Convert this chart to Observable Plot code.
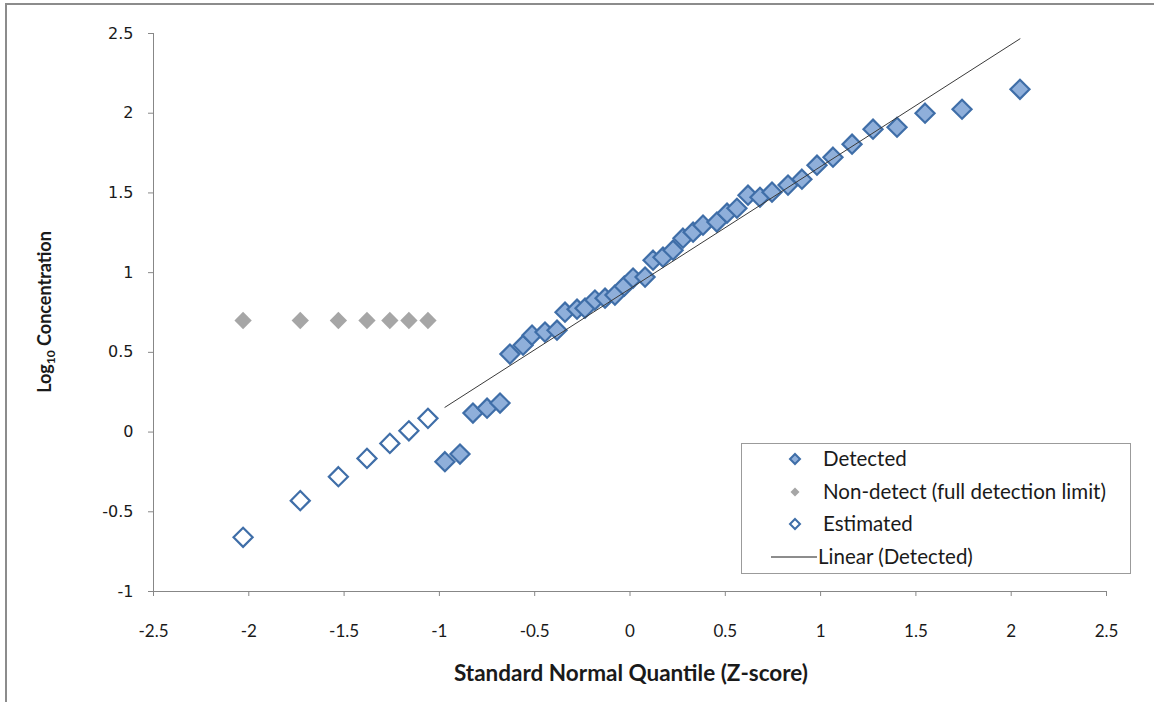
<!DOCTYPE html>
<html>
<head>
<meta charset="utf-8">
<script src="https://cdn.jsdelivr.net/npm/d3@7"></script>
<script src="https://cdn.jsdelivr.net/npm/@observablehq/plot@0.6"></script>
<style>
  html, body { margin: 0; padding: 0; background: #fff; }
  #wrap { position: relative; width: 1154px; height: 702px; overflow: hidden; background: #fff; }
  #border { position: absolute; left: 5px; top: 3px; right: 0; bottom: 0;
            border-top: 2px solid #8c8c8c; border-left: 2px solid #8c8c8c; pointer-events: none; }
  #chart { position: absolute; left: 0; top: 0; }
</style>
</head>
<body>
<div id="wrap"><div id="chart"></div><div id="border"></div></div>
<script>
// ---- Data ----
const detectedZ = [-0.971, -0.892, -0.824, -0.750, -0.682, -0.630, -0.561, -0.514, -0.446, -0.383,
                   -0.341, -0.278, -0.236, -0.184, -0.131, -0.079, -0.030, 0.016, 0.079, 0.121,
                   0.173, 0.226, 0.278, 0.331, 0.383, 0.456, 0.509, 0.561, 0.619, 0.682,
                   0.745, 0.829, 0.902, 0.981, 1.065, 1.165, 1.275, 1.401, 1.548, 1.742, 2.046];
const detectedLog = [-0.186, -0.138, 0.119, 0.150, 0.182, 0.489, 0.545, 0.608, 0.627, 0.639,
                     0.752, 0.771, 0.777, 0.828, 0.840, 0.859, 0.915, 0.966, 0.972, 1.078,
                     1.097, 1.141, 1.216, 1.254, 1.298, 1.317, 1.373, 1.404, 1.486, 1.473,
                     1.505, 1.549, 1.586, 1.674, 1.724, 1.806, 1.900, 1.912, 2.000, 2.025, 2.150];
const nonDetectZ = [-2.03, -1.73, -1.53, -1.38, -1.26, -1.16, -1.06];
const nonDetectLog = [0.70, 0.70, 0.70, 0.70, 0.70, 0.70, 0.70];
const estimatedZ = [-2.03, -1.73, -1.53, -1.38, -1.26, -1.16, -1.06];
const estimatedLog = [-0.66, -0.43, -0.28, -0.165, -0.071, 0.008, 0.086];
const xTicks = [-2.5, -2, -1.5, -1, -0.5, 0, 0.5, 1, 1.5, 2, 2.5];
const yTicks = [-1, -0.5, 0, 0.5, 1, 1.5, 2, 2.5];
const seriesNames = ["Detected", "Non-detect (full detection limit)", "Estimated", "Linear (Detected)"];
const xTitle = "Standard Normal Quantile (Z-score)";

// ---- Build tables ----
const detected = detectedZ.map((z, i) => ({z, v: detectedLog[i]}));
const nonDetect = nonDetectZ.map((z, i) => ({z, v: nonDetectLog[i]}));
const estimated = estimatedZ.map((z, i) => ({z, v: estimatedLog[i]}));

const blueFill = "#8FAFDA", blueStroke = "#3F6EA8", grayFill = "#A6A6A6", axisGray = "#878787";
const labelFont = "Lato, 'Open Sans', sans-serif";
const yLabelFont = "'DejaVu Sans', Verdana, sans-serif";

const svg = Plot.plot({
  width: 1154, height: 702,
  marginLeft: 153, marginRight: 48, marginTop: 33, marginBottom: 111,
  x: {domain: [-2.5, 2.5]},
  y: {domain: [-1, 2.5]},
  style: {background: "transparent", color: "#1a1a1a"},
  marks: [
    Plot.ruleX([-2.5], {stroke: axisGray, strokeWidth: 1}),
    Plot.ruleY([-1], {stroke: axisGray, strokeWidth: 1}),
    Plot.axisX({ticks: xTicks, tickSize: 5, tickPadding: 28, tickFormat: d => String(d),
                stroke: axisGray, fontSize: 17, label: null}),
    Plot.axisY({ticks: yTicks, tickSize: 5, tickPadding: 15, tickFormat: d => String(d),
                stroke: axisGray, fontSize: 16, label: null}),
    Plot.dot(nonDetect, {x: "z", y: "v", symbol: "diamond2", r: 7.8, fill: grayFill, stroke: "none"}),
    Plot.dot(estimated, {x: "z", y: "v", symbol: "diamond2", r: 8.6, fill: "white", stroke: blueStroke, strokeWidth: 2.2}),
    Plot.dot(detected, {x: "z", y: "v", symbol: "diamond2", r: 8.6, fill: blueFill, stroke: blueStroke, strokeWidth: 2.2}),
    Plot.linearRegressionY(detected, {x: "z", y: "v", stroke: "#3a3a3a", strokeWidth: 1, ci: 0})
  ]
});
document.getElementById("chart").appendChild(svg);

const s = d3.select(svg);
// tick label fonts
const axisGroup = prefix => s.selectAll("g").filter(function () {
  const a = this.getAttribute("aria-label") || "";
  return a.startsWith(prefix);
});
axisGroup("x-axis tick label").attr("font-family", labelFont).style("font-family", labelFont);
axisGroup("y-axis tick label").attr("font-family", yLabelFont).style("font-family", yLabelFont);

// ---- Titles and legend ----
s.append("text")
  .attr("x", 631).attr("y", 681)
  .attr("text-anchor", "middle")
  .style("font-family", labelFont).style("font-weight", "bold").style("font-size", "22.5px")
  .attr("fill", "#1a1a1a")
  .text(xTitle);

const yt = s.append("text")
  .attr("transform", "translate(51,312) rotate(-90)")
  .attr("text-anchor", "middle")
  .style("font-family", labelFont).style("font-weight", "bold").style("font-size", "18px")
  .attr("fill", "#1a1a1a");
yt.append("tspan").text("Log");
yt.append("tspan").attr("dy", 4).style("font-size", "12px").text("10");
yt.append("tspan").attr("dy", -4).text(" Concentration");

const lg = s.append("g").attr("text-anchor", "start");
lg.append("rect").attr("x", 741.5).attr("y", 443.5).attr("width", 389).attr("height", 130)
  .attr("fill", "white").attr("stroke", "#9b9b9b").attr("stroke-width", 1);
const rowsY = [459, 492, 524, 557];
const diamond = (cx, cy, h) => `M${cx},${cy - h}L${cx + h},${cy}L${cx},${cy + h}L${cx - h},${cy}Z`;
lg.append("path").attr("d", diamond(795, rowsY[0], 5)).attr("fill", blueFill).attr("stroke", blueStroke).attr("stroke-width", 2);
lg.append("path").attr("d", diamond(795, rowsY[1], 4.5)).attr("fill", grayFill);
lg.append("path").attr("d", diamond(795, rowsY[2], 5)).attr("fill", "white").attr("stroke", blueStroke).attr("stroke-width", 2);
lg.append("line").attr("x1", 771).attr("x2", 817).attr("y1", rowsY[3]).attr("y2", rowsY[3]).attr("stroke", "#1a1a1a").attr("stroke-width", 1);
seriesNames.forEach((name, i) => {
  lg.append("text").attr("x", i === 3 ? 818 : 823).attr("y", rowsY[i]).attr("dy", "0.35em")
    .attr("text-anchor", "start")
    .style("font-family", labelFont).style("font-size", "20.5px").attr("fill", "#1a1a1a").text(name);
});
</script>
</body>
</html>
